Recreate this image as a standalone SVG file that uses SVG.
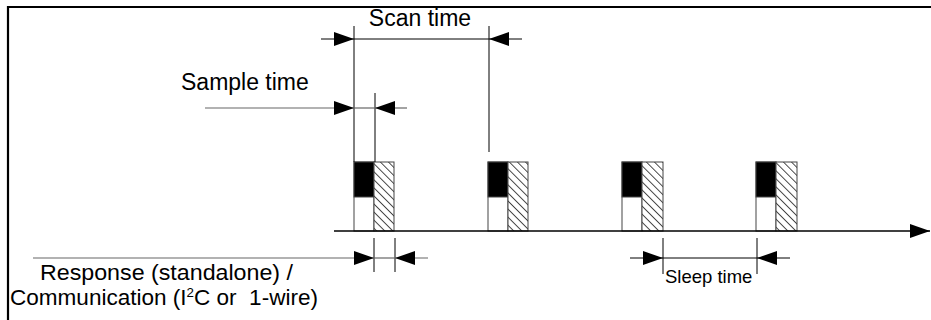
<svg xmlns="http://www.w3.org/2000/svg" width="931" height="320" viewBox="0 0 931 320">
<style>
.t{font-family:"Liberation Sans",Arial,sans-serif;fill:#000}
.dim{stroke:#000;stroke-width:1;fill:none}
.gdim{stroke:#666;stroke-width:1.2;fill:none}
.box{stroke:#444;stroke-width:1;fill:#fff}
.blk{fill:#000;stroke:#444;stroke-width:1}
.hat{fill:url(#hatch);stroke:#444;stroke-width:1}
</style>
<defs>
<pattern id="hatch" patternUnits="userSpaceOnUse" width="5.7" height="5.7" patternTransform="rotate(-45)">
<rect width="5.7" height="5.7" fill="#fff"/>
<line x1="0" y1="0" x2="0" y2="5.7" stroke="#111" stroke-width="1.5"/>
</pattern>
<marker id="ah" viewBox="0 0 20 14" refX="20" refY="7" markerWidth="20" markerHeight="14" markerUnits="userSpaceOnUse" orient="auto">
<path d="M0,0 L20,7 L0,14 Z" fill="#000"/>
</marker>
</defs>
<rect width="931" height="320" fill="#fff"/>
<g id="frame">
<path d="M8,320 L8,7 L931,7" fill="none" stroke="#000" stroke-width="2.2"/>
</g>
<g id="pulses">
<g id="pulse1">
<rect class="box" x="354" y="162" width="20" height="69"/>
<rect class="blk" x="354" y="162" width="20" height="35"/>
<rect class="hat" x="374" y="162" width="20" height="69"/>
</g>
<g id="pulse2">
<rect class="box" x="488" y="162" width="20" height="69"/>
<rect class="blk" x="488" y="162" width="20" height="35"/>
<rect class="hat" x="508" y="162" width="20" height="69"/>
</g>
<g id="pulse3">
<rect class="box" x="622" y="162" width="20" height="69"/>
<rect class="blk" x="622" y="162" width="20" height="35"/>
<rect class="hat" x="642" y="162" width="21" height="69"/>
</g>
<g id="pulse4">
<rect class="box" x="756" y="162" width="20" height="69"/>
<rect class="blk" x="756" y="162" width="20" height="35"/>
<rect class="hat" x="776" y="162" width="21" height="69"/>
</g>
</g>
<g id="connectors">
<line x1="334" y1="231" x2="930" y2="231" stroke="#000" stroke-width="1.4" marker-end="url(#ah)"/>
<line class="dim" x1="354" y1="26" x2="354" y2="162"/>
<line class="dim" x1="489" y1="26" x2="489" y2="152"/>
<line class="dim" x1="321" y1="39" x2="354" y2="39" marker-end="url(#ah)"/>
<line class="dim" x1="354" y1="39" x2="489" y2="39"/>
<line class="dim" x1="522" y1="39" x2="489" y2="39" marker-end="url(#ah)"/>
<line class="dim" x1="375" y1="93" x2="375" y2="162"/>
<line class="gdim" x1="205" y1="108" x2="354" y2="108" marker-end="url(#ah)"/>
<line class="gdim" x1="354" y1="108" x2="375" y2="108"/>
<line class="gdim" x1="407" y1="108" x2="375" y2="108" marker-end="url(#ah)"/>
<line class="dim" x1="374" y1="238" x2="374" y2="272"/>
<line class="dim" x1="395" y1="238" x2="395" y2="272"/>
<line class="gdim" x1="33" y1="258" x2="374" y2="258" marker-end="url(#ah)"/>
<line class="gdim" x1="374" y1="258" x2="395" y2="258"/>
<line class="gdim" x1="428" y1="258" x2="395" y2="258" marker-end="url(#ah)"/>
<line class="dim" x1="663" y1="238" x2="663" y2="274"/>
<line class="dim" x1="757" y1="238" x2="757" y2="274"/>
<line class="dim" x1="630" y1="258" x2="663" y2="258" marker-end="url(#ah)"/>
<line class="dim" x1="663" y1="258" x2="757" y2="258"/>
<line class="dim" x1="790" y1="258" x2="757" y2="258" marker-end="url(#ah)"/>
</g>
<g id="labels">
<text class="t" x="420" y="26" font-size="23" text-anchor="middle">Scan time</text>
<text class="t" x="181" y="90" font-size="23">Sample time</text>
<text class="t" x="40" y="280" font-size="22" textLength="253" lengthAdjust="spacingAndGlyphs">Response (standalone) /</text>
<text class="t" x="10" y="305" font-size="22" xml:space="preserve" textLength="308" lengthAdjust="spacingAndGlyphs">Communication (I<tspan font-size="13" dy="-8">2</tspan><tspan dy="8">C or  1-wire)</tspan></text>
<text class="t" x="665" y="283" font-size="18.5">Sleep time</text>
</g>
</svg>
